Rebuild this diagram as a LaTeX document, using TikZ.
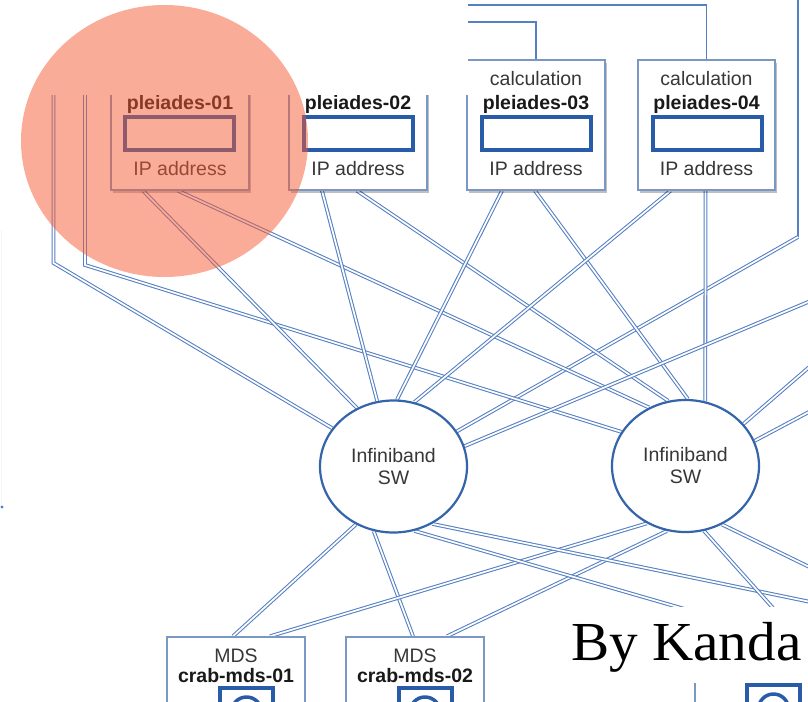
\documentclass[tikz,border=0pt]{standalone}
\usepackage{fontspec}
\setmainfont{Liberation Sans}
\newfontfamily\kandafont{Liberation Serif}
\usetikzlibrary{shapes.geometric,shadows,calc}
\definecolor{boxc}{RGB}{122,152,196}
\definecolor{ipc}{RGB}{40,92,168}
\definecolor{swc}{RGB}{52,100,170}
\definecolor{linkc}{RGB}{85,128,195}
\definecolor{txtc}{RGB}{55,55,55}
\definecolor{boldc}{RGB}{25,25,25}
\definecolor{pinkc}{RGB}{245,90,50}
\pgfdeclarelayer{bg}
\pgfsetlayers{bg,main}
\begin{document}
\begin{tikzpicture}[x=1pt,y=-1pt,
  pbox/.style={draw=boxc, line width=1.5pt, fill=white, minimum width=138pt, minimum height=130pt, inner sep=0pt,
    drop shadow={shadow xshift=1.5pt, shadow yshift=-3pt, opacity=0.25, fill=black}},
  mbox/.style={draw=boxc, line width=1.5pt, fill=white, minimum width=138pt, minimum height=140pt, inner sep=0pt},
  iprect/.style={draw=ipc, line width=4pt, fill=white, minimum width=109pt, minimum height=33pt, inner sep=0pt},
  icon/.style={draw=ipc, line width=4pt, fill=white, minimum width=53pt, minimum height=53pt, inner sep=0pt},
  sw/.style={ellipse, draw=swc, line width=2.2pt, fill=white, minimum width=147pt, minimum height=132pt, inner sep=0pt,
    align=center, text=txtc, font=\fontsize{19.5}{22}\selectfont},
  lbl/.style={inner sep=0pt, anchor=base, text=txtc, font=\fontsize{19.5}{23}\selectfont},
  bname/.style={inner sep=0pt, anchor=base, text=boldc, font=\fontsize{19.5}{23}\selectfont\bfseries},
  link/.style={draw=linkc, line width=1.05pt, double=white, double distance=1.7pt},
  wire/.style={draw=linkc, line width=1.4pt}]
\useasboundingbox (0,0) rectangle (808,701);
\clip (0,0) rectangle (808,701);

% faint left trace
\draw[black!4, line width=1pt] (1.5,230) -- (1.5,505);
\fill[linkc] (2,507) circle [radius=1.6];

% top boxes
\node[pbox] (b1) at (180,125) {};
\node[pbox] (b2) at (358,125) {};
\node[pbox] (b3) at (536,125) {};
\node[pbox, minimum width=137pt] (b4) at (706.5,125) {};

\node[iprect] (b1ip) at (179,133.5) {};
\node[iprect] (b2ip) at (358,133.5) {};
\node[iprect] (b3ip) at (536.5,133.5) {};
\node[iprect] (b4ip) at (707,133.5) {};

\node[bname] (b1n) at (180,109) {pleiades-01};
\node[bname] (b2n) at (358,109) {pleiades-02};
\node[lbl] (b3c) at (536,85) {calculation};
\node[bname] (b3n) at (536,109) {pleiades-03};
\node[lbl] (b4c) at (706.5,85) {calculation};
\node[bname] (b4n) at (706.5,109) {pleiades-04};
\node[lbl] (b1t) at (180,175) {IP address};
\node[lbl] (b2t) at (358,175) {IP address};
\node[lbl] (b3t) at (536,175) {IP address};
\node[lbl] (b4t) at (706.5,175) {IP address};

% switches
\node[sw] (sw1) at (393.5,466.5) {Infiniband\\SW};
\node[sw] (sw2) at (685.5,466) {Infiniband\\SW};

% bottom boxes
\node[mbox] (m1) at (236,707) {};
\node[mbox] (m2) at (415,707) {};
\node[mbox] (m3) at (764,704) {};
\node[lbl] (m1c) at (236,662) {MDS};
\node[bname] (m1n) at (236,682) {crab-mds-01};
\node[lbl] (m2c) at (415,662) {MDS};
\node[bname] (m2n) at (415,682) {crab-mds-02};
\node[icon] (m1i) at (246.5,714.5) {};
\node[icon] (m2i) at (425,714.5) {};
\node[icon] (m3i) at (773.5,711.5) {};
\draw[ipc, line width=3.5pt] (246.5,712) circle [radius=15];
\draw[ipc, line width=3.5pt] (425,712) circle [radius=15];
\draw[ipc, line width=3.5pt] (773.5,709) circle [radius=15];

% ports
\coordinate (b1a) at ($(b1.south)+(-37,0)$);
\coordinate (b1b) at ($(b1.south)+(-2,0)$);
\coordinate (b2a) at ($(b2.south)+(-36,0)$);
\coordinate (b2b) at ($(b2.south)+(-1,0)$);
\coordinate (b3a) at ($(b3.south)+(-34,0)$);
\coordinate (b3b) at ($(b3.south)+(-1,0)$);
\coordinate (b4a) at ($(b4.south)+(-36,0)$);
\coordinate (b4b) at ($(b4.south)+(-1,0)$);
\coordinate (m1a) at ($(m1.north)+(-3,0)$);
\coordinate (m1b) at ($(m1.north)+(34,0)$);
\coordinate (m2a) at ($(m2.north)+(-2,0)$);
\coordinate (m2b) at ($(m2.north)+(32,0)$);
\coordinate (l1top) at (53.5,40);
\coordinate (l1bend) at (53.5,263);
\coordinate (l2top) at (85,40);
\coordinate (l2bend) at (85,265);
\coordinate (w3top) at (798,-10);
\coordinate (w3bend) at (798,237);
\coordinate (e1) at (820,297);
\coordinate (e2) at (822,356);
\coordinate (e3) at (822,405);
\coordinate (e4) at (830,606);
\coordinate (e5) at (830,651);
\coordinate (e6) at (790,627);
\coordinate (e7) at (830,577);

\begin{pgfonlayer}{bg}
\draw[wire] (b4.north) |- (380,5);
\draw[wire] (b3.north) |- (380,22);
\draw[wire] (w3top) -- (w3bend);
\draw[link] (w3bend) -- (sw1.29);
\draw[link] (l1top) -- (l1bend) -- (sw1.148);
\draw[link] (l2top) -- (l2bend) -- (sw2.152);
\draw[link] (b1a) -- (sw1.122);
\draw[link] (b1b) -- (sw2.122);
\draw[link] (b2a) -- (sw1.104);
\draw[link] (b2b) -- (sw2.105);
\draw[link] (b3a) -- (sw1.87);
\draw[link] (b3b) -- (sw2.88);
\draw[link] (b4a) -- (sw1.72);
\draw[link] (b4b) -- (sw2.73);
\draw[link] (sw1.16) -- (e1);
\draw[link] (sw2.36) -- (e2);
\draw[link] (sw2.20) -- (e3);
\draw[link] (sw1.-123) -- (m1a);
\draw[link] (sw1.-107) -- (m2a);
\draw[link] (sw2.-124) -- (m1b);
\draw[link] (sw2.-106) -- (m2b);
\draw[link] (sw1.-56) -- (e4);
\draw[link] (sw1.-72) -- (e5);
\draw[link] (sw2.-74) -- (e6);
\draw[link] (sw2.-58) -- (e7);
\end{pgfonlayer}

% crop cover at top left
\fill[white] (-5,-5) rectangle (468,95);

% highlight
\fill[pinkc, fill opacity=0.5] (164.5,141) ellipse [x radius=143.5, y radius=136];

% caption
\fill[white] (560,607) rectangle (812,683);
\node[anchor=base west, inner sep=0pt, text=black, font=\kandafont\fontsize{55}{60}\selectfont] (kanda) at (571,660) {\scalebox{1.04}[1]{By Kanda}};
\end{tikzpicture}
\end{document}
